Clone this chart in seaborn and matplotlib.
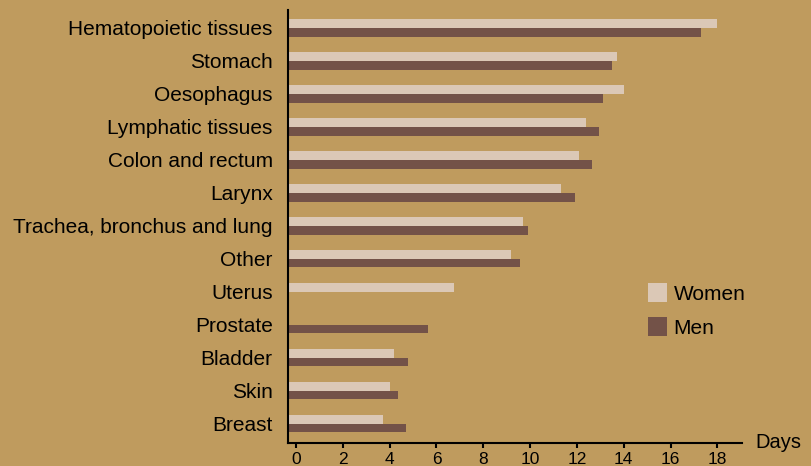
import numpy as np
import pandas as pd
import matplotlib
matplotlib.use("Agg")
import matplotlib.pyplot as plt
import seaborn as sns
from matplotlib.patches import Patch

# data (days)
sites = ["Hematopoietic tissues", "Stomach", "Oesophagus", "Lymphatic tissues",
         "Colon and rectum", "Larynx", "Trachea, bronchus and lung", "Other",
         "Uterus", "Prostate", "Bladder", "Skin", "Breast"]
women = [18.0, 13.7, 14.0, 12.4, 12.1, 11.3, 9.7, 9.2, 6.75, None, 4.2, 4.0, 3.7]
men = [17.3, 13.5, 13.1, 12.95, 12.65, 11.9, 9.9, 9.55, None, 5.65, 4.8, 4.35, 4.7]
groups = ["Women", "Men"]
xticks = list(range(0, 20, 2))

bg = "#BF9B5E"
colors = {"Women": "#DBC8B6", "Men": "#735248"}

df = pd.DataFrame({"site": sites * 2,
                   "sex": ["Women"] * len(sites) + ["Men"] * len(sites),
                   "days": women + men}).dropna()

sns.set_style("white")
plt.rcParams["font.family"] = ["Liberation Sans", "DejaVu Sans"]
plt.rcParams["text.color"] = "black"

fig = plt.figure(figsize=(8.12, 4.66), dpi=100, facecolor=bg)
ax = fig.add_axes([288 / 812, 23 / 466, 454 / 812, 433 / 466], facecolor=bg)

sns.barplot(data=df, y="site", x="days", hue="sex", order=sites,
            hue_order=groups, palette=colors, width=0.52, orient="h",
            errorbar=None, legend=False, saturation=1, linewidth=0, ax=ax)

x0 = -0.34
ax.set_xlim(x0, 19.05)
ax.set_ylim(12.58, -0.545)

# bars grow out of the spine
for p in ax.patches:
    end = p.get_x() + p.get_width()
    p.set_x(x0)
    p.set_width(end - x0)

for s in ["top", "right"]:
    ax.spines[s].set_visible(False)
for s in ["left", "bottom"]:
    ax.spines[s].set_linewidth(1.5)
    ax.spines[s].set_color("black")

ax.set_xticks(xticks)
ax.tick_params(axis="x", length=3.5, width=1.5, labelsize=12.5, pad=3,
               colors="black", direction="out", bottom=True)
ax.tick_params(axis="y", length=0, labelsize=15, pad=11, colors="black")
ax.set_xlabel("")
ax.set_ylabel("")
ax.text(1.03, 0.0, "Days", transform=ax.transAxes, fontsize=14.5,
        ha="left", va="center")

handles = [Patch(facecolor=colors[g], edgecolor="none", label=g) for g in groups]
ax.legend(handles=handles, frameon=False, fontsize=15, loc="upper left",
          bbox_to_anchor=(648 / 812, 1 - 283 / 466),
          bbox_transform=fig.transFigure, handlelength=0.92, handleheight=1.03,
          handletextpad=0.3, labelspacing=0.65, borderpad=0, borderaxespad=0)

fig.savefig("out.png", dpi=100, facecolor=bg)
